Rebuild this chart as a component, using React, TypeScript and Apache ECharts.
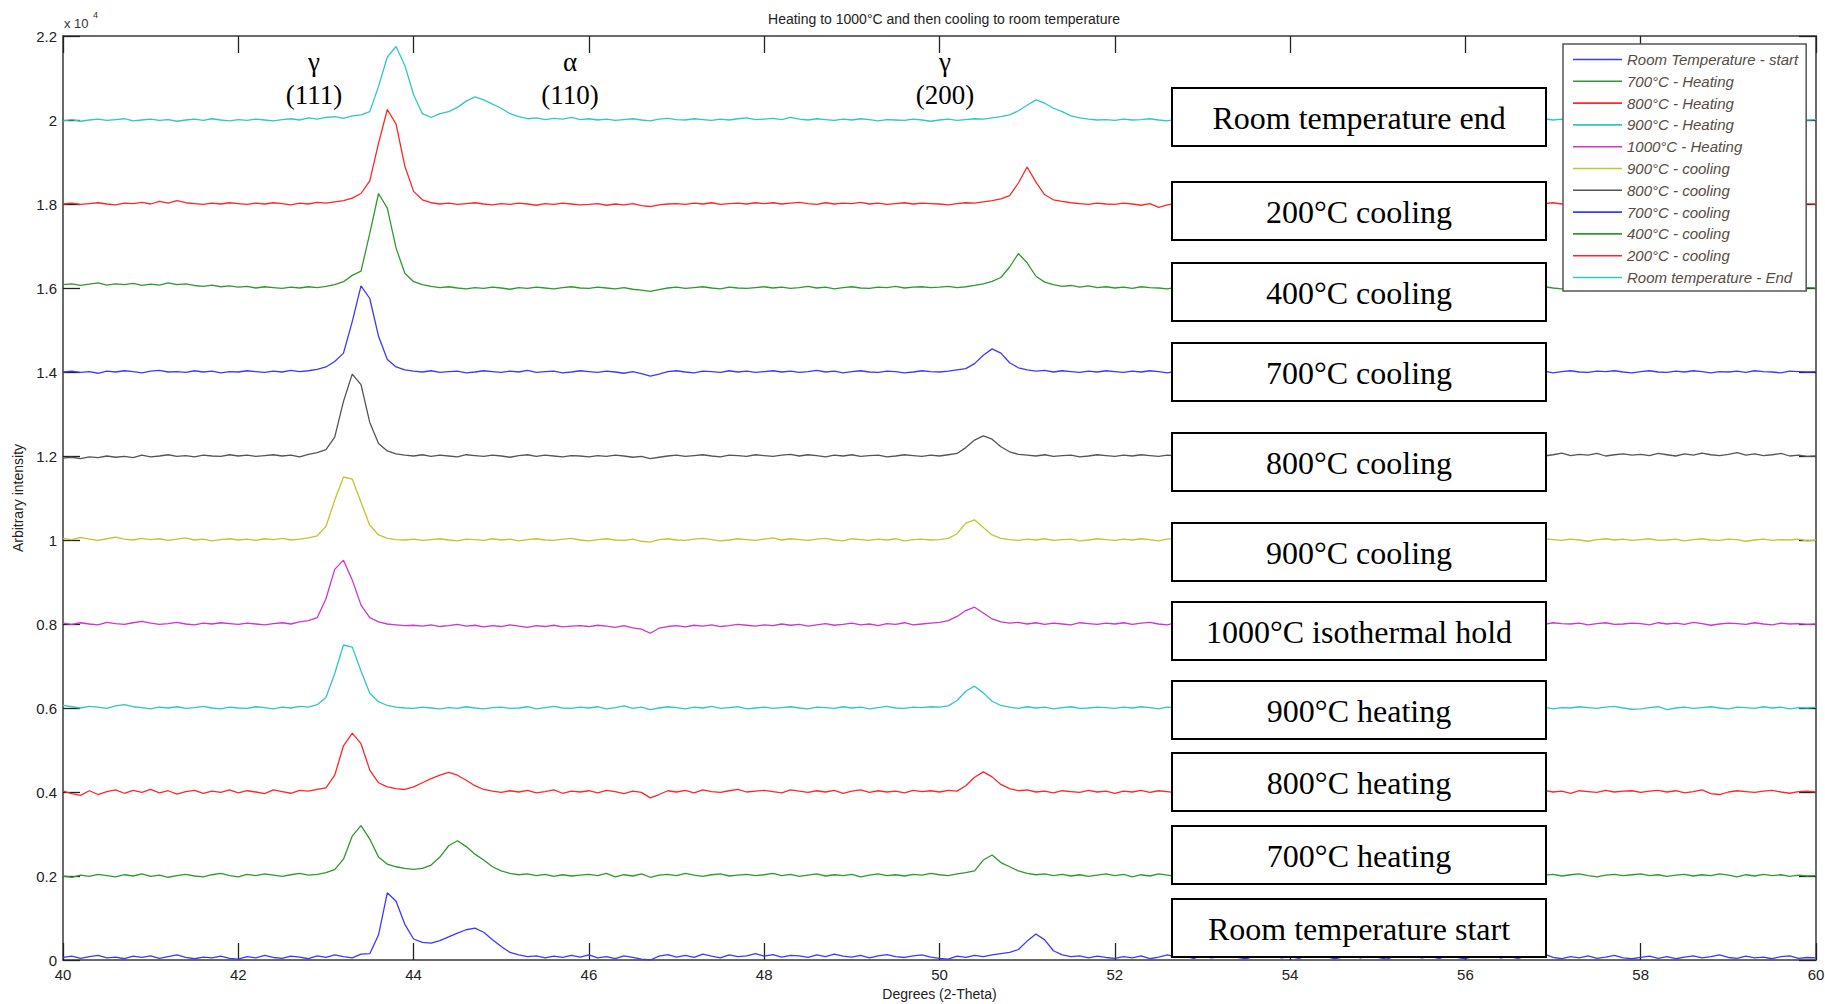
import { useEffect, useRef } from 'react';
import * as echarts from 'echarts';

// 2-theta sampling grid (degrees), 40.0 .. 60.0 step 0.1
const twoTheta: number[] = Array.from({ length: 201 }, (_, i) => Number((40 + i * 0.1).toFixed(1)));

const seriesNames = [
  'Room Temperature - start',
  '700°C - Heating',
  '800°C - Heating',
  '900°C - Heating',
  '1000°C - Heating',
  '900°C - cooling',
  '800°C - cooling',
  '700°C - cooling',
  '400°C - cooling',
  '200°C - cooling',
  'Room temperature - End',
];

// vertical offset of each pattern (x 10^4)
const offsets = [0, 0.2, 0.4, 0.6, 0.8, 1.0, 1.2, 1.4, 1.6, 1.8, 2.0];

// intensities relative to offset, in units of 0.001 x 10^4
const rtStart = [
  6, 9, 4, 8, 11, 5, 7, 3, 9, 6, 10, 4, 8, 12, 6, 3, 7, 5, 9, 4,
  2, 8, 5, 11, 6, 4, 9, 7, 3, 10, 6, 12, 8, 5, 14, 15, 60, 160, 140, 85,
  50, 42, 40, 46, 55, 64, 72, 76, 66, 48, 32, 18, 12, 8, 10, 5, 9, 6, 11, 7,
  12, 5, 8, 3, 10, 6, 2, 0, 9, 13, 7, 11, 6, 14, 9, 5, 12, 8, 10, 15,
  9, 13, 7, 11, 10, 6, 12, 8, 14, 9, 7, 11, 5, 10, 13, 8, 6, 10, 12, 7,
  4, 2, 9, 6, 11, 8, 12, 15, 18, 25, 45, 62, 48, 22, 12, 8, 10, 5, 9, 6,
  4, 8, 5, 10, 3, 7, 12, 6, 9, 4, 11, 5, 8, 13, 6, 3, 9, 7, 12, 5,
  8, 4, 11, 6, 9, 3, 7, 12, 5, 10, 6, 2, 9, 7, 13, 5, 8, 4, 10, 6,
  3, 9, 6, 12, 5, 8, 4, 10, 7, 14, 6, 3, 8, 5, 10, 4, 7, 11, 5, 3,
  6, 9, 4, 8, 3, 7, 10, 5, 8, 12, 6, 4, 9, 5, 7, 3, 8, 10, 4, 6,
  5,
];
const heat700 = [
  0, -3, 2, -1, 4, 1, -2, 3, 0, 5, -1, 2, -3, 1, 4, 0, -2, 3, 6, 1,
  -2, 4, 1, 5, 2, -1, 3, 6, 2, 4, 8, 15, 40, 95, 120, 88, 45, 28, 22, 18,
  16, 18, 26, 45, 72, 84, 70, 52, 38, 22, 12, 6, 3, 5, 1, 4, -1, 3, 0, 2,
  4, 1, 6, -2, 3, 0, 5, -3, 2, 4, 1, 6, 2, -1, 3, 5, 0, 2, 4, 1,
  3, 6, 1, 4, -1, 2, 5, 0, 3, 1, 4, -2, 2, 5, 1, 3, 0, 4, 2, 6,
  3, 1, 5, 8, 12, 38, 50, 32, 22, 12, 6, 3, 5, 1, 4, 0, 3, -1, 2, 5,
  1, 4, -2, 3, 0, 5, 2, -1, 4, 1, 3, 6, 0, 2, -3, 4, 1, 3, 0, 5,
  2, -1, 4, 1, 3, 6, 0, 2, 5, -2, 3, 1, 4, 0, 2, 5, 1, 3, -1, 4,
  0, 3, 5, 1, 4, 2, 6, 3, -1, 2, 4, 0, 3, 5, 1, -2, 2, 4, 1, 3,
  5, 1, 3, -1, 2, 4, 0, 3, 1, 5, 2, -2, 3, 0, 4, 1, 3, -1, 2, 0,
  1,
];
const heat800 = [
  2, -4, -8, 3, -6, 1, 5, -3, 4, -1, 6, -2, 3, -5, 1, 4, -3, 2, -1, 5,
  -2, 3, 0, -4, 5, 1, -3, 4, 2, 6, 10, 40, 110, 140, 115, 52, 22, 12, 8, 6,
  12, 22, 32, 40, 47, 40, 28, 15, 6, 2, -1, 3, 0, 4, -2, 1, 5, -3, 2, 0,
  3, -2, 4, 1, -4, 2, -1, -14, -6, 3, 0, 4, -2, 5, 1, -1, 3, 6, 0, 2,
  4, 1, -2, 5, 2, -1, 3, 0, 4, -3, 2, 5, -1, 3, 0, 2, -2, 4, 1, 3,
  0, 4, 2, 15, 35, 48, 36, 18, 8, 3, 5, 0, 2, -2, 3, 1, -1, 4, 0, 2,
  -3, 2, 0, 4, -1, 3, 1, -2, 5, 0, 2, -1, 4, 1, -3, 3, 0, 2, 5, -1,
  3, 0, -2, 4, 1, 3, -1, 2, 5, 0, -3, 2, 4, 1, -1, 3, 0, 5, 2, -2,
  1, 4, -1, 2, 0, 3, 5, -2, 1, 4, 0, 2, -3, 3, 1, -1, 4, 0, 2, 3,
  -1, 2, 4, 0, 3, -2, 1, 5, -4, -6, 0, 3, 1, -1, 2, 4, 0, -3, 1, 2,
  0,
];
const heat900 = [
  6, 3, 0, 4, 2, -1, 5, 8, 3, 1, -2, 2, 0, 3, -1, 1, 4, 0, -2, 2,
  0, -1, 3, 1, -2, 2, 0, 4, 2, 8, 25, 82, 150, 145, 88, 35, 15, 6, 2, 0,
  -1, 2, 0, -2, 1, -1, 3, 0, -2, 1, 2, -1, 0, 3, -2, 1, 4, 0, -1, 2,
  0, 3, -2, 1, 5, -1, 2, -4, 0, 3, 1, -2, 2, 0, 4, -1, 1, 3, -2, 0,
  2, -1, 1, 3, 0, -2, 2, 1, -1, 3, 0, 2, -2, 1, 4, 0, -1, 2, 1, 3,
  2, 5, 18, 40, 52, 36, 16, 6, 2, -1, 3, 0, 2, -2, 1, 3, -1, 0, 2, 1,
  -1, 2, 0, 3, 1, -2, 2, 0, 4, 1, -1, 3, 0, 2, -2, 1, 3, 0, -1, 2,
  0, 3, -1, 2, 1, 4, -2, 0, 3, 1, -1, 2, 5, 0, 2, -1, 3, 1, 0, 2,
  3, 0, -2, 2, 1, 4, 0, -1, 3, 2, -2, 1, 0, 3, 1, -1, 2, 4, 0, -3,
  -2, 1, 3, -4, 0, 2, -1, 1, 3, 0, -2, 2, 1, -1, 3, 0, 2, -2, 1, 0,
  2,
];
const hold1000 = [
  2, -1, 3, 0, -2, 4, 1, -1, 3, 6, 2, -1, 1, 4, 0, -2, 2, 0, 3, 1,
  -1, 2, 0, -2, 1, 3, 0, 5, 8, 15, 60, 130, 152, 105, 45, 15, 5, 0, -2, -4,
  -3, -5, -2, -6, -4, -1, -5, -3, -7, -4, -6, -2, -5, -8, -4, -6, -3, -7, -5, -4,
  -6, -3, -5, -8, -4, -9, -12, -22, -10, -6, -4, -7, -3, -5, -2, -6, -4, -1, -3, -5,
  -2, -4, 0, -3, -1, -5, -2, 1, -3, -1, 2, -2, 0, -4, 1, -1, 3, -2, 0, 2,
  4, 8, 18, 32, 40, 26, 12, 5, 2, 4, 0, 3, -1, 2, 0, -2, 3, 1, -1, 2,
  0, 3, -1, 2, 4, 0, -2, 3, 1, -1, 2, 0, 4, 1, -2, 2, 0, 3, -1, 1,
  2, -1, 3, 0, 1, 4, -2, 2, 0, 3, 1, -1, 2, 4, 0, -2, 1, 3, 0, 2,
  -1, 2, 0, 3, 1, -2, 4, 0, 2, -1, 3, 1, 0, 2, -2, 1, 3, -1, 0, 2,
  1, -2, 3, 0, 2, -1, 4, 1, -3, 0, 2, 1, -1, 3, 0, -2, 2, 0, 1, -1,
  0,
];
const cool900 = [
  4, 1, 6, 2, -1, 3, 7, 2, 0, 4, 1, 3, -1, 2, 5, 0, 2, -2, 1, 3,
  0, 2, -1, 3, 1, 4, 0, 2, 5, 10, 32, 95, 150, 145, 90, 35, 12, 4, 1, 0,
  2, -1, 1, 3, 0, -2, 2, 1, -1, 3, 0, 2, -2, 1, 3, 0, -1, 2, 4, 0,
  -2, 1, 3, 0, -1, 2, -3, -5, 1, 3, 0, -1, 2, 4, 1, -2, 0, 3, 1, -1,
  2, 5, 0, 3, 1, -1, 2, 4, 0, -2, 3, 1, -1, 2, 0, 3, -2, 1, 2, 0,
  1, 4, 15, 40, 48, 30, 12, 4, 1, -1, 2, 0, 3, -1, 1, 2, -2, 0, 3, 1,
  -1, 2, 0, 3, 1, -2, 2, 4, 0, -1, 3, 1, -2, 2, 0, 3, 1, -1, 2, 0,
  3, 0, -2, 2, 1, 4, 0, -1, 3, 1, -2, 2, 0, 3, -1, 1, 2, 0, -2, 1,
  2, 0, 3, -1, 1, 4, 2, -2, 0, 3, 1, -1, 2, 0, -3, 1, 3, 0, 2, -1,
  1, 3, -1, 0, 2, -2, 1, 3, 0, -1, 2, 1, -3, 0, 2, -1, 1, 0, 2, -2,
  0,
];
const cool800 = [
  -5, -3, -6, -2, -4, 0, -3, -1, -4, 2, -2, 0, 3, -1, 1, -2, 2, 0, -1, 3,
  0, 2, -1, 1, 3, 0, 2, -2, 4, 8, 15, 45, 130, 195, 170, 80, 30, 12, 5, 2,
  0, 3, -1, 2, 0, -2, 3, 1, -1, 2, 0, -3, 1, 3, -1, 2, 0, -2, 1, 0,
  -2, 1, -1, 2, 0, -3, -1, -6, -3, 0, 2, -1, 1, 3, 0, -2, 2, 1, -1, 3,
  1, -1, 2, 4, 0, 3, 1, -2, 2, 0, 3, -1, 1, 2, -2, 0, 3, 1, -1, 2,
  0, 3, 6, 20, 38, 48, 40, 22, 10, 4, 2, 0, 3, -1, 1, 2, -2, 0, 3, 1,
  -1, 2, 0, 3, 1, -1, 2, 0, 3, -2, 1, 2, 0, -1, 3, 1, -2, 2, 0, 1,
  2, -1, 3, 0, 1, 4, -2, 2, 0, 3, 1, -1, 2, 0, 3, 1, -1, 2, 0, 3,
  1, 4, 0, 2, 6, 3, 8, 2, 5, 0, 3, 7, 1, 4, 2, 6, 0, 3, 5, 2,
  4, 1, 6, 3, 0, 5, 2, 7, 3, 1, 4, 8, 2, 5, 1, 3, 6, 0, 2, -1,
  0,
];
const cool700 = [
  0, 2, -1, 1, -3, 2, 0, 3, 1, -2, 2, 4, 0, 1, -1, 3, 0, 2, -2, 1,
  0, 3, 1, -1, 2, 0, 4, 1, 3, 6, 12, 25, 45, 120, 205, 175, 85, 30, 12, 5,
  2, 0, 3, -1, 1, 2, -2, 0, 3, 1, -1, 2, 0, 4, -1, 1, 2, -2, 0, 3,
  1, -1, 2, 0, -3, 1, -4, -10, -5, 1, 3, 0, -2, 2, 1, -1, 3, 0, 2, -1,
  1, 3, 0, 2, -1, 1, 4, 0, 2, -2, 1, 3, 0, -1, 2, 1, -2, 0, 3, 1,
  0, 2, 5, 8, 20, 40, 55, 45, 22, 10, 5, 2, 4, 0, 3, 1, -1, 2, 0, 3,
  1, -1, 2, 0, 3, 1, -2, 2, 0, 4, 1, -1, 3, 0, 2, -2, 1, 3, 0, 2,
  -1, 2, 0, 3, 1, -2, 2, 0, 1, 3, -1, 2, 0, 4, 1, -1, 2, 0, 3, 1,
  2, 0, -2, 3, 1, -1, 2, 4, 0, 2, -2, 1, 3, 0, -1, 2, 1, 3, 0, -2,
  1, 3, 0, -1, 2, 0, 3, 1, -2, 1, 0, 2, -1, 3, 1, 0, -2, 2, 1, 0,
  1,
];
const cool400 = [
  8, 10, 6, 9, 12, 7, 10, 8, 11, 6, 9, 7, 12, 8, 10, 6, 4, 7, 3, 5,
  2, 4, 0, 3, 1, -1, 2, 0, 3, 1, 4, 8, 15, 30, 40, 130, 225, 190, 95, 35,
  15, 8, 4, 1, 3, 0, -2, 1, -1, 2, 0, -3, 1, -1, 2, 0, -2, 1, 3, 0,
  -1, 2, 0, -2, 1, -3, -5, -8, -4, 0, 2, -1, 1, 3, 0, -2, 2, 0, -1, 1,
  3, 0, 2, -1, 1, 4, 0, 2, -2, 1, 3, 0, -1, 2, 1, 4, 0, 2, 3, 1,
  2, 4, 1, 3, 6, 10, 16, 25, 50, 82, 60, 28, 14, 8, 4, 6, 2, 5, 1, 3,
  0, 2, -1, 3, 1, 0, -2, 2, 4, 1, 0, 3, -1, 2, 0, 1, 3, -1, 2, 0,
  1, 3, 0, 2, -1, 4, 1, 0, 2, 3, -2, 1, 0, 3, 1, -1, 2, 4, 0, 1,
  2, 0, 3, 1, -1, 2, 4, 0, 1, 3, 0, -2, 2, 1, 3, -6, -3, 2, 1, 0,
  3, 1, -1, 2, 0, 4, 1, -2, 2, 0, 3, 1, -1, 2, 0, 1, 3, 0, 2, 1,
  0,
];
const cool200 = [
  0, 2, -1, 1, 3, 0, -2, 2, 1, 4, 0, 6, 2, 8, 3, 1, -1, 2, 0, 3,
  1, -1, 2, 0, 3, 1, -2, 2, 0, 4, 2, 5, 8, 14, 25, 55, 145, 225, 190, 90,
  30, 10, 3, 0, 2, -1, 1, 3, 0, -2, 1, -1, 2, 0, -3, 1, -1, 2, 0, -2,
  -1, 1, -3, 0, -2, 1, -4, -6, -2, 0, 1, -1, 2, 0, 3, -1, 1, 2, 0, 3,
  1, 3, 0, 2, 4, 1, -1, 3, 0, 2, 1, 4, 0, 2, -1, 1, 3, 0, 2, 1,
  0, -2, 1, 3, 2, 5, 8, 12, 20, 50, 88, 52, 22, 10, 6, 3, 1, -1, 2, 0,
  -1, 2, 0, -3, 1, -8, -2, 1, 3, 0, 2, -1, 1, 3, 0, 2, -2, 1, 0, 2,
  1, -1, 3, 0, 2, 1, -2, 2, 0, 3, 1, -1, 2, 0, 1, 3, 0, -2, 2, 1,
  0, 2, 1, -1, 3, 0, 2, 1, -2, 1, 3, 0, 2, -1, 1, 0, 3, 2, -1, 1,
  2, 0, 3, 1, -1, 2, 0, 4, 1, -2, 1, 3, 0, 2, -1, 1, 2, 0, 3, 1,
  0,
];
const rtEnd = [
  -2, 1, -3, 0, 2, -1, 1, 3, -2, 0, 2, -1, 1, -3, 0, 2, -1, 3, 0, -2,
  1, -1, 2, 0, -2, 1, 3, 0, 5, 2, 6, 8, 4, 10, 12, 20, 80, 150, 175, 130,
  60, 15, 6, 15, 20, 30, 45, 55, 48, 38, 28, 15, 8, 3, 5, 1, 4, 2, 6, 1,
  3, 0, 2, -1, 1, 3, 0, -2, 2, 4, 1, 0, 3, 1, -1, 2, 0, 3, 5, 1,
  2, 4, 1, 6, 2, 0, 3, 1, -1, 2, 0, 3, 1, -2, 1, 0, -1, 2, 0, -3,
  0, 2, -1, 1, 3, 2, 5, 8, 12, 22, 35, 48, 40, 28, 20, 10, 5, 2, 0, 1,
  -1, 2, 0, 1, 3, 0, -2, 2, 1, 0, 3, -1, 2, 0, 1, 3, 0, -1, 2, 0,
  1, 0, 3, -1, 2, 1, 0, 3, -2, 1, 2, 0, 3, 1, -1, 2, 0, 1, 3, 0,
  2, 1, -1, 3, 0, 2, 1, -2, 1, 3, 0, 2, -1, 1, 0, 3, 2, 0, -1, 2,
  1, 3, 0, 2, -1, 1, 0, 3, 2, -2, 1, 0, 2, 3, -1, 1, 0, 2, 1, 0,
  1,
];

const patterns = [rtStart, heat700, heat800, heat900, hold1000, cool900, cool800, cool700, cool400, cool200, rtEnd];

const seriesColors = ['#3a3aff', '#2e9a2e', '#ff2626', '#30c6c6', '#cc36cc', '#c4c42c', '#555555', '#3a3aff', '#2e9a2e', '#ff2626', '#30c6c6'];

const boxLabels = [
  'Room temperature start',
  '700°C heating',
  '800°C heating',
  '900°C heating',
  '1000°C isothermal hold',
  '900°C cooling',
  '800°C cooling',
  '700°C cooling',
  '400°C cooling',
  '200°C cooling',
  'Room temperature end',
];

const peakLabels = [
  { phase: 'γ', hkl: '(111)' },
  { phase: 'α', hkl: '(110)' },
  { phase: 'γ', hkl: '(200)' },
];

// layout (pixels)
const boxTops = [899, 826, 753, 681, 602, 523, 433, 343, 263, 182, 88];
const peakLabelX = [314, 570, 945];

const mkAxisLine = () => ({ show: true, onZero: false, lineStyle: { color: '#6a6a6a', width: 2 } });
const mkTick = () => ({ show: true, inside: true, length: 17, lineStyle: { color: '#222', width: 1.3 } });

export default function App() {
  const ref = useRef<HTMLDivElement>(null);

  useEffect(() => {
    if (!ref.current) return;
    const chart = echarts.init(ref.current, undefined, { renderer: 'svg' });

    const series: any[] = patterns.map((vals, k) => ({
      name: seriesNames[k],
      type: 'line',
      data: vals.map((v, i) => [twoTheta[i], offsets[k] + v / 1000]),
      symbol: 'none',
      showSymbol: false,
      lineStyle: { color: seriesColors[k], width: 1.3 },
      itemStyle: { color: seriesColors[k] },
      z: 2,
    }));
    // empty series so the mirrored (top / right) axes are bound
    series.push({
      name: '_frame',
      type: 'line',
      xAxisIndex: 1,
      yAxisIndex: 1,
      data: [],
      symbol: 'none',
      silent: true,
    });

    const graphics: any[] = [];
    const boxLeft = 1172;
    const boxW = 374;
    const boxH = 58;
    boxLabels.forEach((label, k) => {
      graphics.push({
        type: 'rect',
        z: 100,
        shape: { x: boxLeft, y: boxTops[k], width: boxW, height: boxH },
        style: { fill: '#ffffff', stroke: '#000000', lineWidth: 2 },
      });
      graphics.push({
        type: 'text',
        z: 101,
        x: boxLeft + boxW / 2,
        y: boxTops[k] + boxH / 2 + 1,
        style: {
          text: label,
          fill: '#000',
          font: '32px "Liberation Serif"',
          textAlign: 'center',
          textVerticalAlign: 'middle',
          align: 'center',
          verticalAlign: 'middle',
        },
      });
    });
    peakLabels.forEach((p, k) => {
      graphics.push({
        type: 'text',
        z: 101,
        x: peakLabelX[k],
        y: 62,
        style: {
          text: p.phase,
          fill: '#000',
          font: '27px "Liberation Serif"',
          textAlign: 'center',
          textVerticalAlign: 'middle',
          align: 'center',
          verticalAlign: 'middle',
        },
      });
      graphics.push({
        type: 'text',
        z: 101,
        x: peakLabelX[k],
        y: 95,
        style: {
          text: p.hkl,
          fill: '#000',
          font: '27px "Liberation Serif"',
          textAlign: 'center',
          textVerticalAlign: 'middle',
          align: 'center',
          verticalAlign: 'middle',
        },
      });
    });
    graphics.push({
      type: 'text',
      z: 101,
      x: 64,
      y: 23,
      style: { text: 'x 10', fill: '#333', font: '13px "Liberation Sans"', textVerticalAlign: 'middle', verticalAlign: 'middle' },
    });
    graphics.push({
      type: 'text',
      z: 101,
      x: 93,
      y: 15,
      style: { text: '4', fill: '#333', font: '9px "Liberation Sans"', textVerticalAlign: 'middle', verticalAlign: 'middle' },
    });

    chart.setOption({
      animation: false,
      backgroundColor: '#ffffff',
      title: {
        text: 'Heating to 1000°C and then cooling to room temperature',
        left: 939,
        textAlign: 'center',
        top: 7,
        textStyle: { fontFamily: 'Liberation Sans', fontSize: 14, fontWeight: 'normal', color: '#222' },
      },
      legend: {
        orient: 'vertical',
        left: 1563,
        top: 44,
        data: seriesNames,
        icon: 'path://M0,6L49,6L49,7.6L0,7.6Z',
        itemWidth: 49,
        itemHeight: 14,
        itemGap: 6.8,
        padding: [8, 8, 6, 10],
        backgroundColor: '#ffffff',
        borderColor: '#555',
        borderWidth: 1.5,
        textStyle: { fontFamily: 'Liberation Sans', fontStyle: 'italic', fontSize: 15, color: '#574b3f' },
        z: 200,
      },
      grid: { left: 63, right: 9, top: 36, bottom: 44, containLabel: false, outerBoundsMode: 'none' },
      xAxis: [
        {
          type: 'value',
          min: 40,
          max: 60,
          interval: 2,
          position: 'bottom',
          name: 'Degrees (2-Theta)',
          nameLocation: 'middle',
          nameGap: 26,
          nameTextStyle: { fontFamily: 'Liberation Sans', fontSize: 14, color: '#222' },
          axisLine: mkAxisLine(),
          axisTick: mkTick(),
          axisLabel: { fontFamily: 'Liberation Sans', fontSize: 15, color: '#222', margin: 7 },
          splitLine: { show: false },
        },
        {
          type: 'value',
          min: 40,
          max: 60,
          interval: 2,
          position: 'top',
          axisLine: mkAxisLine(),
          axisTick: mkTick(),
          axisLabel: { show: false },
          splitLine: { show: false },
        },
      ],
      yAxis: [
        {
          type: 'value',
          min: 0,
          max: 2.2,
          interval: 0.2,
          position: 'left',
          name: 'Arbitrary intensity',
          nameLocation: 'middle',
          nameGap: 29,
          nameTextStyle: { fontFamily: 'Liberation Sans', fontSize: 14, color: '#222' },
          axisLine: mkAxisLine(),
          axisTick: mkTick(),
          axisLabel: {
            fontFamily: 'Liberation Sans',
            fontSize: 15,
            color: '#222',
            margin: 6,
            formatter: (v: number) => String(Number(v.toFixed(1))),
          },
          splitLine: { show: false },
        },
        {
          type: 'value',
          min: 0,
          max: 2.2,
          interval: 0.2,
          position: 'right',
          axisLine: mkAxisLine(),
          axisTick: mkTick(),
          axisLabel: { show: false },
          splitLine: { show: false },
        },
      ],
      series,
      graphic: graphics,
    });

    return () => {
      chart.dispose();
    };
  }, []);

  return (
    <div
      ref={ref}
      style={{ position: 'fixed', left: 0, top: 0, width: 1825, height: 1004, background: '#fff' }}
    />
  );
}
